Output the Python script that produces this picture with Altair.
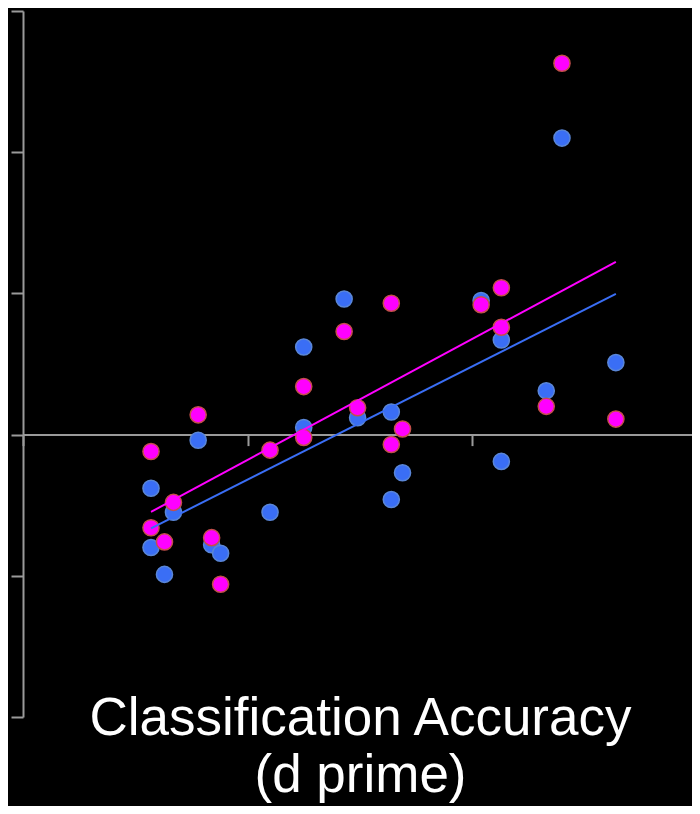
import altair as alt
import pandas as pd

# Classification accuracy (d prime) for each subject
subject_x = [0.57, 0.57, 0.63, 0.67, 0.78, 0.84, 0.88, 1.10, 1.25, 1.25, 1.43,
             1.49, 1.64, 1.64, 1.69, 2.04, 2.13, 2.13, 2.33, 2.40, 2.64]
# Blue series values
blue_y = [-0.38, -0.80, -0.99, -0.55, -0.04, -0.78, -0.84, -0.55, 0.62, 0.05, 0.96,
          0.12, 0.16, -0.46, -0.27, 0.95, 0.67, -0.19, 0.31, 2.10, 0.51]
# Magenta series values
magenta_y = [-0.12, -0.66, -0.76, -0.48, 0.14, -0.73, -1.06, -0.11, 0.34, -0.02, 0.73,
             0.19, 0.93, -0.07, 0.04, 0.92, 1.04, 0.76, 0.20, 2.63, 0.11]

x_ticks = [0, 1, 2, 3]
y_ticks = [-2, -1, 0, 1, 2, 3]
title_lines = ["Classification Accuracy", "(d prime)"]

df = pd.DataFrame({
    "x": subject_x + subject_x,
    "y": blue_y + magenta_y,
    "series": ["blue"] * len(blue_y) + ["magenta"] * len(magenta_y),
})

W, H = 669, 706
X_MAX = 2.979  # the page ends just before the x axis' last tick at 3
AXIS_GREY = "#9a9a9a"
BLUE = "#3a6ef5"
MAGENTA = "#ff00ff"

x_enc = alt.X(
    "x:Q",
    scale=alt.Scale(domain=[0, X_MAX], nice=False, zero=False),
    axis=alt.Axis(values=x_ticks, labels=False, title=None, grid=False,
                  offset=-(H * 2 / 5), tickSize=11, tickWidth=2, domainWidth=2,
                  domainColor=AXIS_GREY, tickColor=AXIS_GREY),
)
y_enc = alt.Y(
    "y:Q",
    scale=alt.Scale(domain=[-2, 3], nice=False, zero=False),
    axis=alt.Axis(values=y_ticks, labels=False, title=None, grid=False,
                  tickSize=12, tickWidth=2, domainWidth=2,
                  domainColor=AXIS_GREY, tickColor=AXIS_GREY),
)

base = alt.Chart(df)

blue_pts = base.transform_filter(alt.datum.series == "blue").mark_point(
    shape="circle", filled=True, size=260, fill=BLUE, stroke="#5a86d6",
    strokeWidth=1.5, opacity=1
).encode(x=x_enc, y=y_enc)

mag_pts = base.transform_filter(alt.datum.series == "magenta").mark_point(
    shape="circle", filled=True, size=260, fill=MAGENTA, stroke="#c4504a",
    strokeWidth=1.5, opacity=1
).encode(x=x_enc, y=y_enc)

blue_line = base.transform_filter(alt.datum.series == "blue").transform_regression(
    "x", "y"
).mark_line(color=BLUE, strokeWidth=2).encode(x=x_enc, y=y_enc)

mag_line = base.transform_filter(alt.datum.series == "magenta").transform_regression(
    "x", "y"
).mark_line(color=MAGENTA, strokeWidth=2).encode(x=x_enc, y=y_enc)

chart = alt.layer(blue_pts, mag_pts, blue_line, mag_line).properties(
    width=W,
    height=H,
    autosize=alt.AutoSizeParams(type="none"),
    padding={"left": 15, "top": 3, "right": 0, "bottom": 89},
    background="black",
    title=alt.TitleParams(
        text=title_lines, orient="bottom", anchor="middle",
        font="Liberation Sans", fontSize=53, fontWeight="normal",
        lineHeight=57, color="white", offset=-25, dx=3,
    ),
).configure_view(stroke=None)

chart.save("out.html", embed_options={"renderer": "svg", "actions": False})
